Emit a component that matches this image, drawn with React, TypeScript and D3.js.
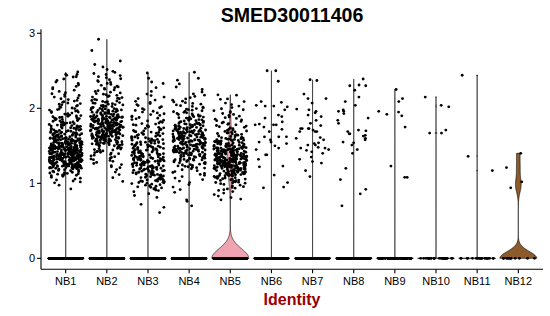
import React from 'react';
import * as d3 from 'd3';

// ---------- data ----------
const groups = ["NB1", "NB2", "NB3", "NB4", "NB5", "NB6", "NB7", "NB8", "NB9", "NB10", "NB11", "NB12"];
// number of cells with zero expression per identity
const zeroCounts = [2000, 1800, 1800, 1500, 1050, 350, 380, 320, 90, 28, 22, 12];
// dense identities: histogram of expressed cells, 0.1-wide bins starting at binStarts
const binWidth = 0.1;
const binStarts = [0.9, 1.0, 0.8, 0.9, 0.8, 0, 0, 0, 0, 0, 0, 0];
const binCounts: number[][] = [
  [2, 8, 20, 60, 85, 80, 60, 40, 28, 20, 15, 12, 9, 6, 5, 3],
  [2, 3, 7, 10, 17, 36, 50, 54, 48, 30, 19, 13, 10, 8, 7, 3],
  [4, 14, 23, 30, 34, 34, 30, 26, 20, 14, 11, 9, 7, 5, 2, 1],
  [3, 5, 8, 17, 30, 40, 44, 42, 34, 21, 14, 10, 6, 3, 2],
  [5, 10, 22, 45, 70, 70, 50, 30, 18, 12, 10, 8, 5, 2],
  [], [], [], [], [], [], [],
];
// individually read expressed values
const extraValues: number[][] = [
  [2.45, 2.44, 2.42],
  [2.92, 2.77, 2.63],
  [0.61, 0.68, 0.72, 2.47, 2.40, 2.33],
  [0.70, 0.76, 0.78, 0.88, 2.48, 2.40],
  [0.78, 0.79, 2.18, 2.12],
  [2.50, 2.50, 2.36, 2.09, 2.04, 2.08, 2.03, 2.02, 2.03, 1.98, 1.91, 1.89, 1.82, 1.79, 1.78, 1.78, 1.87, 1.78, 1.72, 1.75,
    1.69, 1.62, 1.62, 1.58, 1.62, 1.55, 1.55, 1.53, 1.50, 1.47, 1.45, 1.38, 1.38, 1.32, 1.23, 1.22, 1.11, 1.01, 0.94, 0.95],
  [2.37, 2.38, 2.19, 2.13, 2.13, 2.07, 1.98, 1.94, 1.96, 1.99, 1.91, 1.89, 1.84, 1.80, 1.77, 1.73, 1.73, 1.69, 1.69, 1.71,
    1.73, 1.73, 1.69, 1.60, 1.61, 1.58, 1.53, 1.51, 1.51, 1.48, 1.54, 1.45, 1.47, 1.44, 1.40, 1.35, 1.32, 1.29, 1.27, 1.17,
    1.09, 1.42, 1.47],
  [2.39, 2.30, 2.31, 2.24, 2.30, 2.15, 2.09, 2.04, 1.98, 1.96, 1.93, 1.96, 1.84, 1.87, 1.71, 1.69, 1.80, 1.70, 1.64, 1.60,
    1.63, 1.66, 1.66, 1.58, 1.55, 1.51, 1.54, 1.45, 1.40, 1.20, 1.05, 0.92, 0.86, 0.70],
  [2.25, 2.13, 2.09, 1.92, 1.90, 1.96, 1.95, 1.75, 1.23, 1.08, 1.08],
  [2.15, 2.04, 2.02, 1.67, 1.71, 1.67],
  [2.44, 1.36, 1.17],
  [1.40, 1.21, 1.02, 0.94],
];
const violinColors = ["#A8A8A8", "#A8A8A8", "#A8A8A8", "#A8A8A8", "#F0A3B0", "#A8A8A8",
  "#A8A8A8", "#A8A8A8", "#A8A8A8", "#A8A8A8", "#A8A8A8", "#8C5A2B"];
const yTicks = [0, 1, 2, 3];
const title = "SMED30011406";
const xTitle = "Identity";

// ---------- layout ----------
const W = 550, H = 316;
const plotLeft = 41, plotRight = 543, plotTop = 29.3, plotBottom = 269.3;
const FONT = "'Liberation Sans', Arial, Helvetica, sans-serif";

// deterministic jitter hash (position only)
function hash(a: number, b: number): number {
  const s = Math.sin(a * 12.9898 + b * 78.233) * 43758.5453;
  return s - Math.floor(s);
}

function expressedValues(g: number): number[] {
  const out: number[] = [];
  binCounts[g].forEach((c, k) => {
    const lo = binStarts[g] + k * binWidth;
    for (let j = 0; j < c; j++) out.push(lo + ((j + 0.5) / c) * binWidth);
  });
  return out.concat(extraValues[g]);
}

function violinPath(g: number, values: number[], cx: number, half: number, y: d3.ScaleLinear<number, number>) {
  const n0 = zeroCounts[g];
  const all = new Array(n0).fill(0).concat(values).sort(d3.ascending);
  const n = all.length;
  const sd = d3.deviation(all) || 1;
  const iqr = d3.quantile(all, 0.75)! - d3.quantile(all, 0.25)!;
  // Seurat adds ~1e-5 noise: an all-zero IQR becomes noise-sized
  const lo = iqr === 0 ? 1e-5 : Math.min(sd, iqr / 1.34);
  const bw = 0.9 * lo * Math.pow(n, -0.2);
  const vmax = d3.max(values) ?? 0;
  const N = 512;
  const s = vmax / (N - 1);
  const grid = d3.range(N).map((i) => i * s);
  let dens: number[];
  if (bw < s) {
    dens = new Array(N).fill(0);
    dens[0] += n0;
    for (const v of values) {
      const p = v / s;
      const i = Math.min(N - 2, Math.floor(p));
      const f = p - i;
      dens[i] += 1 - f;
      dens[i + 1] += f;
    }
  } else {
    dens = grid.map((t) => {
      let acc = n0 * Math.exp(-0.5 * (t / bw) * (t / bw));
      for (const v of values) {
        const z = (t - v) / bw;
        acc += Math.exp(-0.5 * z * z);
      }
      return acc;
    });
  }
  const dmax = d3.max(dens) || 1;
  const data = grid.map((t, i) => ({ t, w: (dens[i] / dmax) * half }));
  const area = d3.area<{ t: number; w: number }>()
    .y((d) => y(d.t))
    .x0((d) => cx - d.w)
    .x1((d) => cx + d.w);
  return area(data) || "";
}

export default function App() {
  const x = d3.scaleBand<string>().domain(groups).range([plotLeft, plotRight]).paddingInner(0).paddingOuter(0.1);
  const step = x.step();
  const y = d3.scaleLinear().domain([-0.146, 3.053]).range([plotBottom, plotTop]);
  const half = 0.45 * step;
  const jw = 0.4 * step;

  const violins: JSX.Element[] = [];
  const dots: JSX.Element[] = [];
  groups.forEach((name, g) => {
    const cx = (x(name) ?? 0) + x.bandwidth() / 2;
    const vals = expressedValues(g);
    violins.push(
      <path key={"v" + g} d={violinPath(g, vals, cx, half, y)} fill={violinColors[g]} stroke="#000" strokeWidth={0.6} />
    );
    const allVals = new Array(zeroCounts[g]).fill(0).concat(vals);
    allVals.forEach((v, i) => {
      const u = hash(i + 1, g + 1);
      dots.push(<circle key={"p" + g + "_" + i} cx={cx + (u * 2 - 1) * jw} cy={y(v)} r={1.42} fill="#000" />);
    });
  });

  return (
    <svg width={W} height={H} style={{ position: "absolute", left: 0, top: 0, background: "#fff" }} fontFamily={FONT}>
      <rect x={0} y={0} width={W} height={H} fill="#fff" />
      <g>{violins}</g>
      <g>{dots}</g>
      <line x1={plotLeft} x2={plotLeft} y1={plotTop} y2={plotBottom} stroke="#000" strokeWidth={1.1} />
      <line x1={plotLeft} x2={plotRight} y1={plotBottom} y2={plotBottom} stroke="#000" strokeWidth={1.1} />
      {yTicks.map((t) => (
        <g key={"yt" + t}>
          <line x1={plotLeft - 4} x2={plotLeft} y1={y(t)} y2={y(t)} stroke="#000" strokeWidth={1.1} />
          <text x={plotLeft - 6} y={y(t)} dy="0.36em" textAnchor="end" fontSize={11} fill="#000">{t}</text>
        </g>
      ))}
      {groups.map((name) => {
        const cx = (x(name) ?? 0) + x.bandwidth() / 2;
        return (
          <g key={"xt" + name}>
            <line x1={cx} x2={cx} y1={plotBottom} y2={plotBottom + 4} stroke="#000" strokeWidth={1.1} />
            <text x={cx} y={285} textAnchor="middle" fontSize={11} fill="#000">{name}</text>
          </g>
        );
      })}
      <text x={(plotLeft + plotRight) / 2} y={21.7} textAnchor="middle" fontSize={19.6} fontWeight="bold" fill="#000">{title}</text>
      <text x={(plotLeft + plotRight) / 2} y={305} textAnchor="middle" fontSize={16} fontWeight="bold" fill="#990000">{xTitle}</text>
    </svg>
  );
}
